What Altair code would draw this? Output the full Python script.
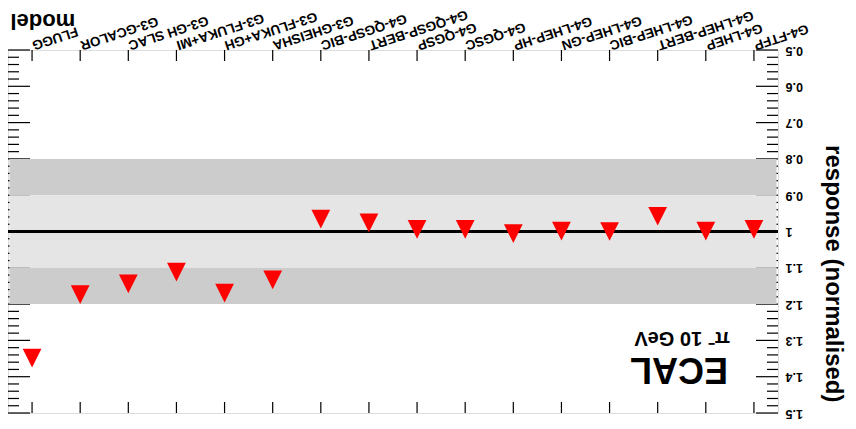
import altair as alt
import pandas as pd

# categories as they appear (picture is rotated 180 degrees)
models = ["FLUGG", "G3-GCALOR", "G3-GH SLAC", "G3-FLUKA+MI", "G3-FLUKA+GH", "G3-GHEISHA",
          "G4-QGSP-BIC", "G4-QGSP-BERT", "G4-QGSP", "G4-QGSC", "G4-LHEP-HP", "G4-LHEP-GN",
          "G4-LHEP-BIC", "G4-LHEP-BERT", "G4-LHEP", "G4-FTFP"]
response = [1.349, 1.174, 1.144, 1.112, 1.170, 1.133,
            0.966, 0.976, 0.994, 0.994, 1.006, 0.999,
            1.000, 0.958, 0.999, 0.994]

band_lo = [0.8, 0.9, 1.1]
band_hi = [0.9, 1.1, 1.2]
band_color = ["#cccccc", "#e5e5e5", "#cccccc"]
ref_value = [1.0]

y_major = [0.5, 0.6, 0.7, 0.8, 0.9, 1.0, 1.1, 1.2, 1.3, 1.4, 1.5]
y_minor = [round(0.5 + 0.02 * i, 2) for i in range(51) if i % 5 != 0]

W, H = 770, 363
FONT = "Liberation Sans"

yscale = alt.Scale(domain=[0.5, 1.5], reverse=True, nice=False, zero=False)
yaxis = alt.Axis(orient="right", values=y_major, format=".2~f", domain=False, ticks=False,
                 grid=False, labelAngle=180, labelAlign="right", labelBaseline="middle",
                 labelPadding=7, labelFontSize=12.5, labelFontWeight="bold", labelFont=FONT,
                 labelColor="black", labelFlush=False, labelOverlap=False, labelBound=False,
                 title="response (normalised)", titleAngle=90, titleAlign="right",
                 titleBaseline="middle", titleX=54, titleY=352, titleFontSize=24,
                 titleFontWeight="bold", titleFont=FONT, titleColor="black")
xscale = alt.Scale(type="point", domain=models, padding=0.5)
xaxis = alt.Axis(orient="top", domain=False, ticks=False, grid=False, labelAngle=162,
                 labelAlign="right", labelBaseline="middle", labelPadding=5,
                 labelFontSize=13.5, labelFontWeight="bold", labelFont=FONT, labelColor="black",
                 labelOverlap=False, labelBound=False, labelFlush=False, labelLimit=0,
                 title="model", titleAngle=180, titleAlign="right", titleBaseline="alphabetic",
                 titleX=2, titleY=-37, titleFontSize=22, titleFontWeight="bold",
                 titleFont=FONT, titleColor="black")

df_pts = pd.DataFrame({"model": models, "response": response})
df_major = pd.DataFrame({"v": y_major})
df_minor = pd.DataFrame({"v": y_minor})
df_band = pd.DataFrame({"lo": band_lo, "hi": band_hi, "c": band_color})
df_ref = pd.DataFrame({"ref": ref_value})
df_models = pd.DataFrame({"model": models})

tick_style = dict(color="black", strokeWidth=1.2)
Y = lambda f: alt.Y(f, scale=yscale, axis=yaxis)
X = lambda f: alt.X(f, scale=xscale, axis=xaxis, sort=None)

maj_l = alt.Chart(df_major).mark_rule(**tick_style).encode(y=Y("v:Q"), x=alt.value(0), x2=alt.value(22))
maj_r = alt.Chart(df_major).mark_rule(**tick_style).encode(y=Y("v:Q"), x=alt.value(W - 22), x2=alt.value(W))
min_l = alt.Chart(df_minor).mark_rule(**tick_style).encode(y=Y("v:Q"), x=alt.value(0), x2=alt.value(11))
min_r = alt.Chart(df_minor).mark_rule(**tick_style).encode(y=Y("v:Q"), x=alt.value(W - 11), x2=alt.value(W))
xt_top = alt.Chart(df_models).mark_rule(**tick_style).encode(x=X("model:N"), y=alt.value(0), y2=alt.value(11))
xt_bot = alt.Chart(df_models).mark_rule(**tick_style).encode(x=X("model:N"), y=alt.value(H - 11), y2=alt.value(H))

bands = alt.Chart(df_band).mark_rect().encode(
    y=Y("lo:Q"), y2="hi:Q", x=alt.value(1.5), x2=alt.value(W - 1.5),
    color=alt.Color("c:N", scale=None))

ref = alt.Chart(df_ref).mark_rule(color="black", strokeWidth=3).encode(
    y=Y("ref:Q"), x=alt.value(0), x2=alt.value(W))

pts = alt.Chart(df_pts).mark_point(shape="M-1,-1L1,-1L0,1Z", filled=True, color="#ff0000",
                                   opacity=1, size=350, strokeWidth=0).encode(
    x=X("model:N"), y=Y("response:Q"))

ecal = alt.Chart(pd.DataFrame({"t": ["ECAL"]})).mark_text(
    angle=180, align="left", baseline="alphabetic", font=FONT, fontSize=36,
    fontWeight="bold", color="black").encode(text="t:N", x=alt.value(720), y=alt.value(308))
beam = alt.Chart(pd.DataFrame({"t": ["π⁻ 10 GeV"]})).mark_text(
    angle=180, align="left", baseline="alphabetic", font=FONT, fontSize=20,
    fontWeight="bold", color="black").encode(text="t:N", x=alt.value(722), y=alt.value(282))

chart = alt.layer(maj_l, maj_r, min_l, min_r, xt_top, xt_bot, bands, ref, pts, ecal, beam).properties(
    width=W, height=H,
    autosize=alt.AutoSizeParams(type="none"),
    padding={"left": 0, "top": 42, "right": 70, "bottom": 16},
).configure_view(stroke="black", strokeWidth=3).configure(background="white")

chart.save("out.html", embed_options={"renderer": "svg", "actions": False})
